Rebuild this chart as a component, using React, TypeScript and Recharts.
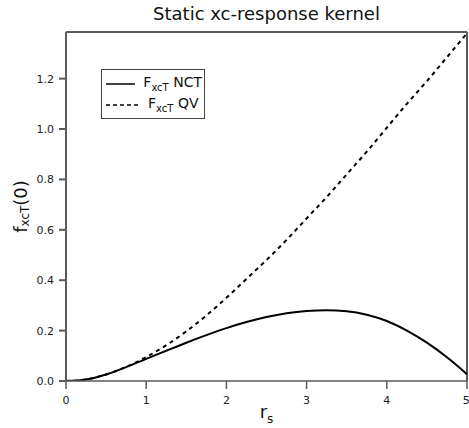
import React from 'react'
import { LineChart, Line, XAxis, YAxis, Legend, ReferenceLine, Label } from 'recharts'

// r_s sample points
const rs = [0, 0.25, 0.5, 0.75, 1, 1.25, 1.5, 1.75, 2, 2.25, 2.5, 2.75, 3, 3.25, 3.5, 3.75, 4, 4.25, 4.5, 4.75, 5]
// F_xcT from the NCT kernel
const nct = [0, 0.006, 0.026, 0.055, 0.088, 0.12, 0.152, 0.182, 0.21, 0.234, 0.254, 0.269, 0.278, 0.281, 0.277, 0.263, 0.238, 0.2, 0.152, 0.094, 0.027]
// F_xcT from the QV kernel
const qv = [0, 0.006, 0.026, 0.056, 0.095, 0.142, 0.197, 0.26, 0.33, 0.405, 0.48, 0.56, 0.645, 0.73, 0.82, 0.91, 1.005, 1.1, 1.19, 1.285, 1.38]

const xTicks = [0, 1, 2, 3, 4, 5]
const yTicks = [0, 0.2, 0.4, 0.6, 0.8, 1.0, 1.2]
const yMax = 1.385

const data = rs.map((r, i) => ({ rs: r, nct: nct[i], qv: qv[i] }))

const FONT = '"DejaVu Sans", Verdana, sans-serif'
const FRAME = '#5a5a5a'

function YAxisTitle({ viewBox }: any) {
  const cx = 20
  const cy = viewBox.y + viewBox.height / 2
  return (
    <text
      x={cx}
      y={cy}
      transform={`rotate(-90, ${cx}, ${cy})`}
      textAnchor="middle"
      dominantBaseline="central"
      fontFamily={FONT}
      fontSize={18}
      fill="#111"
    >
      f<tspan fontSize={12} dy={5}>xcT</tspan>
      <tspan dy={-5}>(0)</tspan>
    </text>
  )
}

function XAxisTitle({ viewBox }: any) {
  const cx = viewBox.x + viewBox.width / 2
  return (
    <text x={cx} y={418} textAnchor="middle" fontFamily={FONT} fontSize={18} fill="#111">
      r<tspan fontSize={12} dy={5}>s</tspan>
    </text>
  )
}

function LegendRow({ dashed, name }: { dashed?: boolean; name: string }) {
  return (
    <div style={{ display: 'flex', alignItems: 'center', height: 21 }}>
      <svg width={36} height={10} style={{ marginRight: 8 }}>
        <line x1={2} y1={5} x2={34} y2={5} stroke="#000" strokeWidth={1.5} strokeDasharray={dashed ? '4 3' : undefined} />
      </svg>
      <span style={{ whiteSpace: 'nowrap' }}>
        F<sub style={{ fontSize: 10, verticalAlign: -4 }}>xcT</sub> {name}
      </span>
    </div>
  )
}

function KernelLegend() {
  return (
    <div
      style={{
        border: '1px solid #444',
        background: '#fff',
        padding: '3px 2px',
        fontFamily: FONT,
        fontSize: 14,
        color: '#111',
        width: 98,
        boxSizing: 'content-box',
        lineHeight: 1,
      }}
    >
      <LegendRow name="NCT" />
      <LegendRow dashed name="QV" />
    </div>
  )
}

export default function App() {
  return (
    <div style={{ position: 'absolute', top: 0, left: 0, width: 469, height: 428, background: '#fff' }}>
      <div
        style={{
          position: 'absolute',
          top: 3,
          left: 66,
          width: 401,
          textAlign: 'center',
          fontFamily: FONT,
          fontSize: 18,
          lineHeight: '22px',
          color: '#111',
        }}
      >
        Static xc-response kernel
      </div>
      <LineChart width={469} height={428} data={data} margin={{ top: 32, right: 2, left: 0, bottom: 0 }}>
        <XAxis
          dataKey="rs"
          type="number"
          domain={[0, 5]}
          ticks={xTicks}
          height={47}
          tickSize={8}
          tickMargin={7}
          stroke={FRAME}
          strokeWidth={1.5}
          tick={{ fontFamily: FONT, fontSize: 11, fill: '#222' }}
        >
          <Label content={XAxisTitle} />
        </XAxis>
        <YAxis
          type="number"
          domain={[0, yMax]}
          ticks={yTicks}
          width={66}
          tickSize={7}
          tickMargin={5}
          stroke={FRAME}
          strokeWidth={2}
          allowDataOverflow
          tickFormatter={(v: number) => v.toFixed(1)}
          tick={{ fontFamily: FONT, fontSize: 11, fill: '#222' }}
        >
          <Label content={YAxisTitle} />
        </YAxis>
        <ReferenceLine y={yMax} stroke={FRAME} strokeWidth={2} ifOverflow="visible" />
        <ReferenceLine x={5} stroke={FRAME} strokeWidth={2} ifOverflow="visible" />
        <Legend
          layout="vertical"
          align="center"
          verticalAlign="middle"
          content={<KernelLegend />}
          wrapperStyle={{ top: 69, left: 101, width: 104 }}
        />
        <Line
          type="monotone"
          dataKey="qv"
          stroke="#000"
          strokeWidth={2}
          strokeDasharray="4 4"
          dot={false}
          isAnimationActive={false}
        />
        <Line
          type="monotone"
          dataKey="nct"
          stroke="#000"
          strokeWidth={2}
          dot={false}
          isAnimationActive={false}
        />
      </LineChart>
    </div>
  )
}
